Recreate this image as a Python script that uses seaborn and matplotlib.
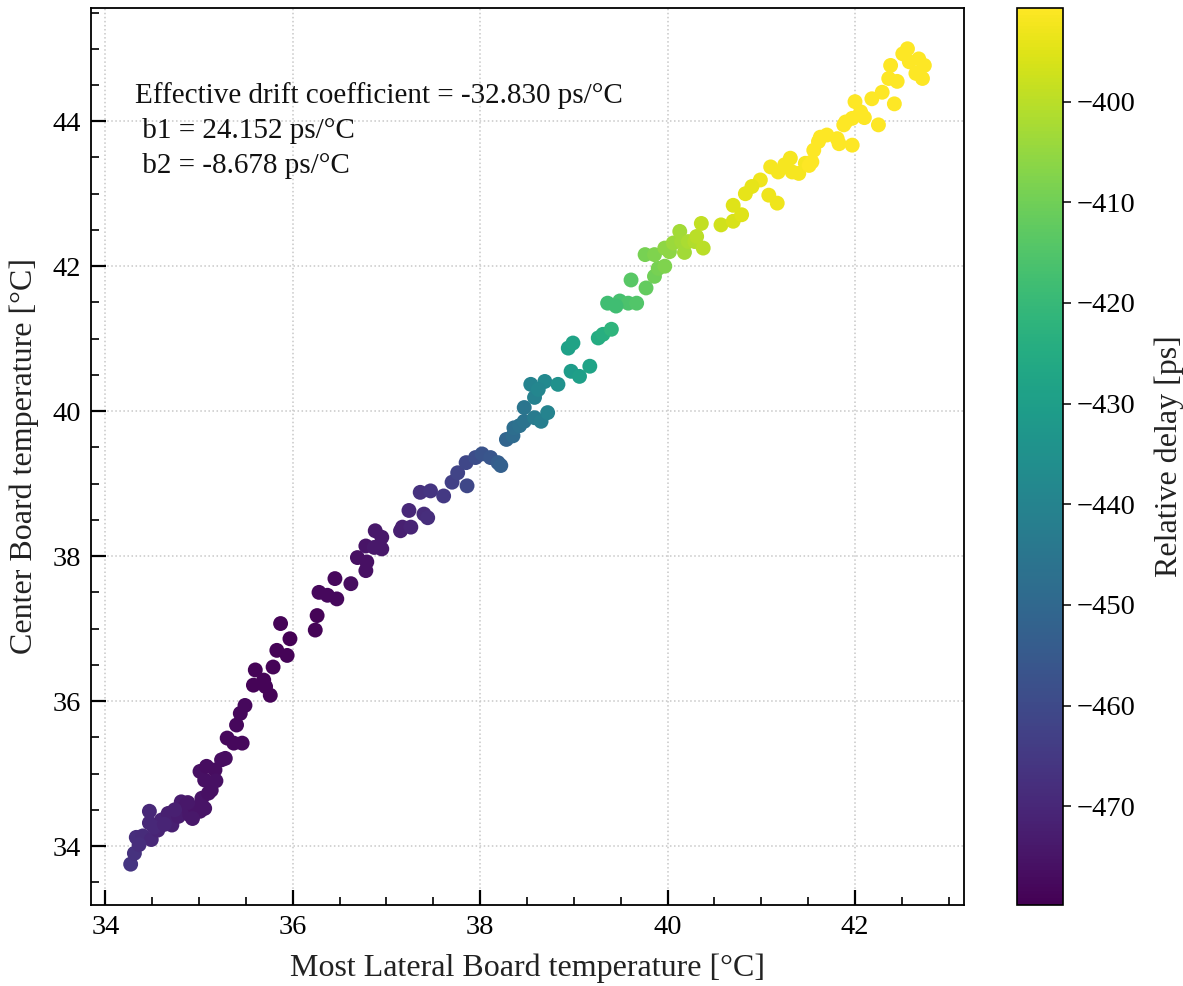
import numpy as np
import pandas as pd
import matplotlib
matplotlib.use("Agg")
import matplotlib.pyplot as plt
import seaborn as sns
from matplotlib.ticker import MultipleLocator
from matplotlib.colors import Normalize
from matplotlib.cm import ScalarMappable

# ---------------- data ----------------
lateral_temp = [
    34.27, 34.31, 34.33, 34.40, 34.47, 34.49, 34.47, 34.56, 34.60, 34.67,
    34.71, 34.78, 34.81, 34.85, 34.90, 34.96, 35.01, 35.06, 35.03, 35.10,
    35.13, 35.01, 35.06, 35.08, 35.17, 35.24, 35.28, 35.30, 35.37, 35.46,
    35.40, 35.44, 35.49, 35.58, 35.71, 35.76, 35.60, 35.69, 35.79, 35.83,
    35.94, 35.87, 35.97, 36.24, 36.26, 36.28, 36.37, 36.45, 36.47, 36.62,
    36.69, 36.78, 36.79, 36.78, 36.88, 36.95, 36.95, 36.87, 37.15, 37.17,
    37.24, 37.26, 37.40, 37.44, 37.36, 37.47, 37.61, 37.70, 37.76, 37.85,
    37.86, 37.95, 38.02, 38.11, 38.19, 38.22, 38.28, 38.35, 38.36, 38.42,
    38.47, 38.47, 38.58, 38.65, 38.72, 38.58, 38.54, 38.69, 38.83, 38.97,
    39.06, 39.17, 38.94, 38.99, 39.26, 39.31, 39.40, 39.36, 39.49, 39.58,
    39.67, 39.61, 39.77, 39.86, 39.90, 39.97, 39.76, 39.86, 39.97, 40.02,
    40.06, 40.13, 40.15, 40.18, 40.22, 40.29, 40.31, 40.38, 40.36, 40.57,
    40.70, 40.79, 40.70, 40.83, 40.99, 41.08, 41.17, 41.10, 41.18, 41.31,
    41.33, 41.40, 41.47, 41.51, 41.54, 41.56, 41.61, 41.63, 41.70, 41.81,
    41.83, 41.97, 41.88, 41.90, 41.97, 42.00, 42.06, 42.18, 42.25, 42.29,
    42.42, 42.36, 42.38, 42.51, 42.56, 42.58, 42.65, 42.72, 42.74,
    34.36, 34.52, 34.63, 34.74, 34.88, 34.93, 35.18, 38.62, 39.45, 40.90,
    41.25, 42.10, 42.45, 42.68,
]
center_temp = [
    33.75, 33.90, 34.12, 34.14, 34.48, 34.09, 34.32, 34.22, 34.36, 34.45,
    34.29, 34.41, 34.61, 34.55, 34.43, 34.52, 34.48, 34.52, 34.66, 34.73,
    34.77, 35.03, 34.91, 35.10, 35.05, 35.19, 35.21, 35.49, 35.42, 35.42,
    35.67, 35.83, 35.94, 36.22, 36.20, 36.08, 36.43, 36.29, 36.47, 36.70,
    36.63, 37.07, 36.86, 36.98, 37.18, 37.50, 37.46, 37.69, 37.41, 37.62,
    37.98, 37.80, 37.92, 38.14, 38.35, 38.26, 38.10, 38.12, 38.35, 38.40,
    38.63, 38.40, 38.58, 38.53, 38.88, 38.90, 38.83, 39.02, 39.15, 39.29,
    38.97, 39.36, 39.41, 39.36, 39.29, 39.25, 39.61, 39.66, 39.77, 39.80,
    39.86, 40.05, 39.91, 39.86, 39.98, 40.19, 40.37, 40.41, 40.37, 40.55,
    40.48, 40.62, 40.87, 40.94, 41.01, 41.06, 41.13, 41.49, 41.52, 41.49,
    41.49, 41.81, 41.70, 41.86, 41.97, 42.00, 42.16, 42.16, 42.25, 42.20,
    42.32, 42.48, 42.34, 42.19, 42.34, 42.34, 42.41, 42.25, 42.59, 42.57,
    42.62, 42.71, 42.84, 43.00, 43.19, 42.98, 42.87, 43.37, 43.30, 43.49,
    43.30, 43.28, 43.42, 43.39, 43.44, 43.60, 43.72, 43.78, 43.81, 43.76,
    43.69, 43.67, 43.95, 43.99, 44.04, 44.27, 44.13, 44.31, 43.95, 44.40,
    44.24, 44.59, 44.77, 44.93, 45.00, 44.82, 44.66, 44.59, 44.77,
    34.02, 34.26, 34.30, 34.50, 34.60, 34.38, 34.90, 40.30, 41.45, 43.10,
    43.40, 44.05, 44.55, 44.86,
]
relative_delay = [
    -466, -467, -468, -469, -470, -470, -470, -471, -471, -472,
    -472, -473, -473, -474, -474, -475, -475, -475, -475, -476,
    -476, -476, -476, -477, -477, -477, -477, -478, -478, -478,
    -478, -478, -478, -479, -479, -479, -479, -479, -479, -479,
    -479, -479, -479.8, -479, -479, -478, -478, -478, -478, -477,
    -476, -476, -476, -475, -474, -474, -474, -474, -472, -472,
    -470, -471, -469, -468, -467, -466, -465, -463, -462, -461,
    -461, -459, -457, -456, -454, -453, -451, -449, -448, -447,
    -446, -445, -443, -442, -440, -441, -440, -438, -435, -431,
    -430, -428, -429, -428, -425, -424, -422, -418, -417, -416,
    -415, -414, -412, -410, -409, -408, -409, -408, -406, -406,
    -404, -403, -403, -403, -402, -401, -400, -400, -399, -397,
    -396, -395, -395, -394, -393, -393, -393, -392, -392, -392,
    -392, -392, -392, -391, -391, -391, -391, -391, -391, -391,
    -391, -391, -391, -391, -391, -391, -391, -391, -391, -391,
    -391, -391, -391, -390.7, -390.7, -391, -391, -391, -391,
    -468, -470, -471, -472, -474, -474, -476, -439, -418, -394,
    -392, -391, -391, -391,
]

x_ticks = [34, 36, 38, 40, 42]
y_ticks = [34, 36, 38, 40, 42, 44]
cbar_ticks = [-470, -460, -450, -440, -430, -420, -410, -400]

annotation_lines = [
    "Effective drift coefficient = -32.830 ps/°C",
    " b1 = 24.152 ps/°C",
    " b2 = -8.678 ps/°C",
]
x_label = "Most Lateral Board temperature [°C]"
y_label = "Center Board temperature [°C]"
cbar_label = "Relative delay [ps]"

# ---------------- style ----------------
sns.set_theme(style="ticks")
plt.rcParams["font.family"] = ["Liberation Serif", "DejaVu Serif"]
plt.rcParams["axes.unicode_minus"] = True

df = pd.DataFrame({
    "lateral": lateral_temp,
    "center": center_temp,
    "delay": relative_delay,
})

fig = plt.figure(figsize=(11.83, 9.86), dpi=100)
ax = fig.add_axes([0.0769, 0.0822, 0.7380, 0.9097])
cax = fig.add_axes([0.8597, 0.0822, 0.0389, 0.9097])

norm = Normalize(vmin=min(relative_delay), vmax=max(relative_delay))
sns.scatterplot(data=df, x="lateral", y="center", hue="delay",
                palette="viridis", hue_norm=norm, s=115, linewidth=0,
                alpha=1.0, legend=False, ax=ax, zorder=3)

ax.set_xticks(x_ticks)
ax.set_yticks(y_ticks)
ax.xaxis.set_minor_locator(MultipleLocator(0.5))
ax.yaxis.set_minor_locator(MultipleLocator(0.5))
ax.tick_params(which="major", direction="in", length=11, width=1.6,
               labelsize=20.5, bottom=True, left=True, top=False, right=False,
               colors="black", pad=7)
ax.tick_params(which="minor", direction="in", length=6, width=1.2,
               bottom=True, left=True, top=False, right=False, colors="black")
ax.grid(True, which="major", linestyle=":", linewidth=1.1, color="#c8c8c8")
ax.set_axisbelow(True)
for sp in ax.spines.values():
    sp.set_color("black")
    sp.set_linewidth(1.3)

ax.set_xlabel(x_label, fontsize=23, labelpad=10, color="#222222")
ax.set_ylabel(y_label, fontsize=23, labelpad=10, color="#222222")

ax.text(0.05, 0.918, "\n".join(annotation_lines), transform=ax.transAxes,
        fontsize=21, va="top", ha="left", linespacing=1.45, color="#111111")

cb = fig.colorbar(ScalarMappable(norm=norm, cmap="viridis"), cax=cax)
cb.set_ticks(cbar_ticks)
cb.ax.tick_params(labelsize=20.5, length=6, width=1.1, direction="out",
                  colors="black")
cb.outline.set_linewidth(1.2)
cb.outline.set_edgecolor("black")
cb.set_label(cbar_label, fontsize=23, labelpad=14, color="#222222")

fig.savefig("out.png", dpi=100)
